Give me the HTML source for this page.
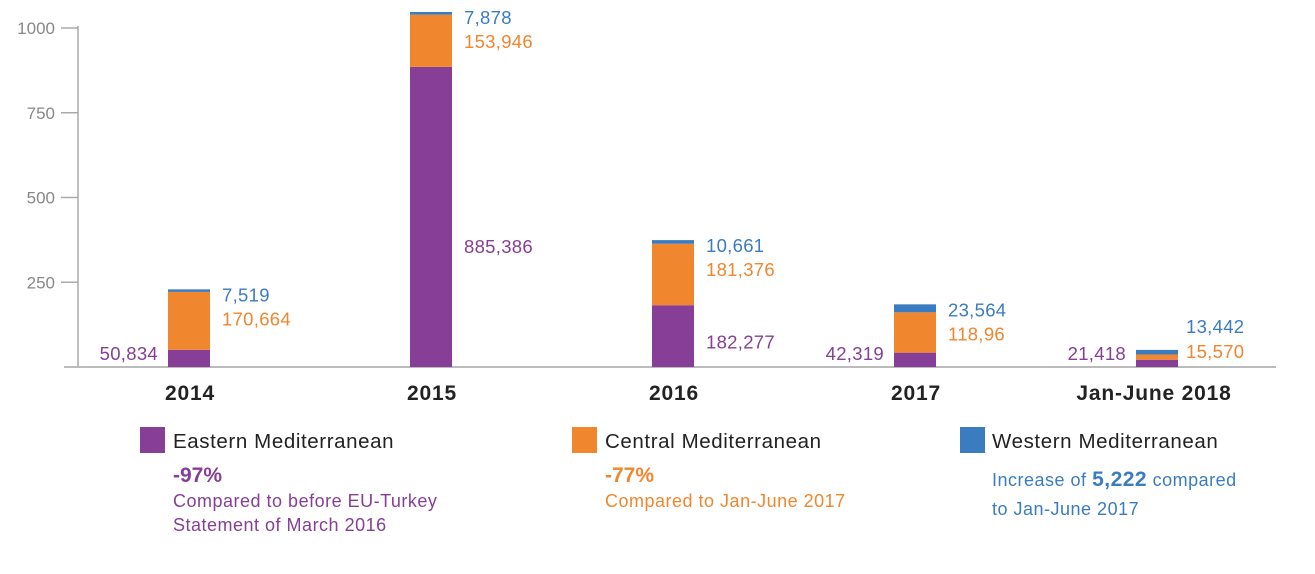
<!DOCTYPE html>
<html><head><meta charset="utf-8"><style>
body{margin:0;background:#fff;}
svg text{font-family:"Liberation Sans","DejaVu Sans",sans-serif;}
</style></head><body>
<svg id="chart" width="1315" height="569" viewBox="0 0 1315 569" xmlns="http://www.w3.org/2000/svg">
<g id="axis"></g>
<g id="bars"></g>
<g id="legend">
 <rect x="140" y="427" width="25" height="26" fill="#873e96"/>
 <text x="173" y="448" font-size="20.5" letter-spacing="0.6" fill="#222">Eastern Mediterranean</text>
 <text x="173" y="482" font-size="21" font-weight="bold" fill="#873e96">-97%</text>
 <text x="173" y="507" font-size="18" letter-spacing="0.5" fill="#873e96">Compared to before EU-Turkey</text>
 <text x="173" y="531" font-size="18" letter-spacing="0.5" fill="#873e96">Statement of March 2016</text>
 <rect x="572" y="427" width="25" height="26" fill="#f0862e"/>
 <text x="605" y="448" font-size="20.5" letter-spacing="0.6" fill="#222">Central Mediterranean</text>
 <text x="605" y="482" font-size="21" font-weight="bold" fill="#f0862e">-77%</text>
 <text x="605" y="507" font-size="18" letter-spacing="0.5" fill="#f0862e">Compared to Jan-June 2017</text>
 <rect x="960" y="427" width="25" height="26" fill="#3b7cc0"/>
 <text x="992" y="448" font-size="20.5" letter-spacing="0.6" fill="#222">Western Mediterranean</text>
 <text x="992" y="486" font-size="18" letter-spacing="0.5" fill="#3b7cc0">Increase of <tspan font-weight="bold" font-size="21">5,222</tspan> compared</text>
 <text x="992" y="515" font-size="18" letter-spacing="0.5" fill="#3b7cc0">to Jan-June 2017</text>
</g>
</svg>
<script>
const categories = ["2014","2015","2016","2017","Jan-June 2018"];
const eastern = [50.834, 885.386, 182.277, 42.319, 21.418];
const central = [170.664, 153.946, 181.376, 118.96, 15.570];
const western = [7.519, 7.878, 10.661, 23.564, 13.442];
const easternLabels = ["50,834","885,386","182,277","42,319","21,418"];
const centralLabels = ["170,664","153,946","181,376","118,96","15,570"];
const westernLabels = ["7,519","7,878","10,661","23,564","13,442"];
const yTicks = [250, 500, 750, 1000];

const NS="http://www.w3.org/2000/svg";
const x0=78, baseY=367, yScale=339/1000;
const firstCenter=189, step=242, barW=42;
const y = v => baseY - v*yScale;
const xc = i => firstCenter + i*step;
const C={e:"#873e96",c:"#f0862e",w:"#3b7cc0"};
function mk(tag, attrs, parent){const el=document.createElementNS(NS,tag);for(const k in attrs)el.setAttribute(k,attrs[k]);parent.appendChild(el);return el;}
const axis=document.getElementById('axis'), bars=document.getElementById('bars');
let ax=mk('line',{x1:x0,y1:y(1000)-2,x2:x0,y2:baseY,stroke:"#aaa","stroke-width":1.5},axis);


let bl=mk('line',{x1:x0-14,y1:baseY,x2:1276,y2:baseY,stroke:"#bbb","stroke-width":2},axis);


yTicks.forEach(t=>{
  const tk=mk('line',{x1:x0-17,y1:y(t),x2:x0,y2:y(t),stroke:"#aaa","stroke-width":1.5},axis);
  
  
  const tl=mk('text',{x:x0-23,y:y(t)+6,"text-anchor":"end","font-size":17,fill:"#888"},axis);
  
  
  tl.textContent=t;
});
categories.forEach((cat,i)=>{
  const cx=xc(i), left=cx-barW/2;
  const e=eastern[i], c=central[i], w=western[i];
  const s1=mk('rect',{x:left,y:y(e),width:barW,height:e*yScale,fill:C.e},bars);
  
  
  const s2=mk('rect',{x:left,y:y(e+c),width:barW,height:c*yScale,fill:C.c},bars);
  
  
  const s3=mk('rect',{x:left,y:y(e+c+w),width:barW,height:Math.max(w*yScale,2.5),fill:C.w},bars);
  
  
  const top=y(e+c+w);
  let wy=top+12, cyy=wy+24;
  if(cyy>358){cyy=358;wy=cyy-25;}
  const lx=left+barW+(i==4?8:12);
  const t1=mk('text',{x:lx,y:wy,"font-size":18.5,"letter-spacing":0.3,fill:C.w},bars);
  
  
  t1.textContent=westernLabels[i];
  const t2=mk('text',{x:lx,y:cyy,"font-size":18.5,"letter-spacing":0.3,fill:C.c},bars);
  
  
  t2.textContent=centralLabels[i];
  let t3;
  if(e>100){
    t3=mk('text',{x:lx,y:y(e*0.4)+6,"font-size":18.5,"letter-spacing":0.3,fill:C.e},bars);
  } else {
    t3=mk('text',{x:left-10,y:baseY-7,"font-size":18.5,"letter-spacing":0.3,fill:C.e,"text-anchor":"end"},bars);
  }
  
  
  t3.textContent=easternLabels[i];
  const cl=mk('text',{x:cx+(i==4?-3:1),y:400,"font-size":21,"letter-spacing":0.8,"font-weight":"bold",fill:"#222","text-anchor":"middle"},bars);
  
  
  cl.textContent=cat;
});
</script>
</body></html>
